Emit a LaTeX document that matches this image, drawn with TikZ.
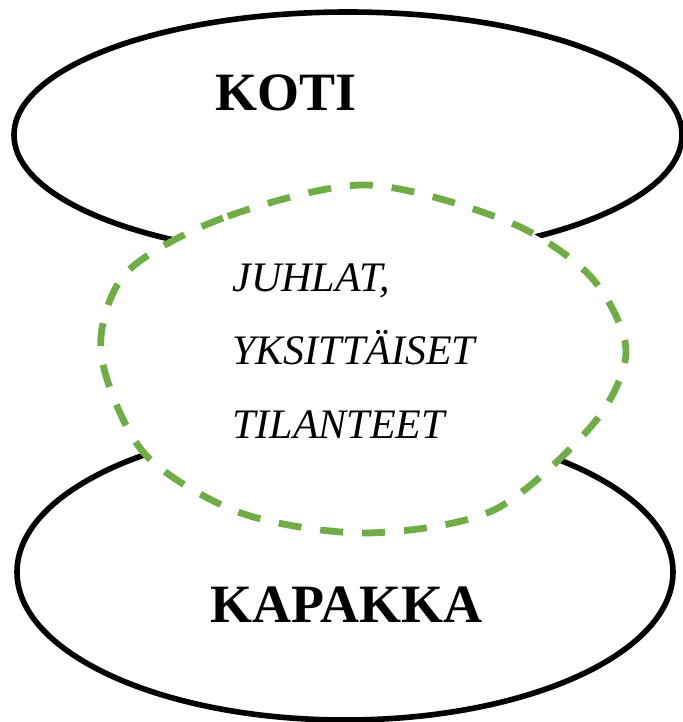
\documentclass[tikz,border=0pt]{standalone}
\usepackage{fontspec}
\setmainfont{Liberation Serif}
\definecolor{officegreen}{HTML}{70AD47}
\begin{document}
\begin{tikzpicture}[x=0.5pt,y=-0.5pt]
% Draw the frame
\useasboundingbox (0,0) rectangle (683,722);
\tikzset{place line/.style={line width=2.8pt, color=black}}
\tikzset{overlap line/.style={line width=3.4pt, color=officegreen, dash pattern=on 11.5pt off 9.5pt, fill=white}}
\tikzset{place label/.style={anchor=base west, inner sep=0pt, font=\fontsize{27}{32}\selectfont\bfseries}}
\tikzset{overlap label/.style={anchor=base west, inner sep=0pt, font=\fontsize{21}{25}\selectfont\itshape}}

% the places
\draw[place line] (348,135) ellipse [x radius=167pt, y radius=61.5pt];
\draw[place line] (345,572) ellipse [x radius=164pt, y radius=74pt];

% the overlap -- drawn on top, white inside
\draw[overlap line] plot[smooth cycle, tension=0.5] coordinates {
(366,185) (223,218) (126,273) (101,353) (144,453) (241,513) (366,533)
(494,510) (594,423) (626,350) (591,277) (509,222)};

% the names
\node[place label] (koti) at (215,111) {KOTI};
\node[place label] (kapakka) at (210,622) {KAPAKKA};
\node[overlap label] (juhlat) at (232,291) {JUHLAT,};
\node[overlap label] (yksittaiset) at (232,364) {YKSITTÄISET};
\node[overlap label] (tilanteet) at (232,438) {TILANTEET};
\end{tikzpicture}
\end{document}
